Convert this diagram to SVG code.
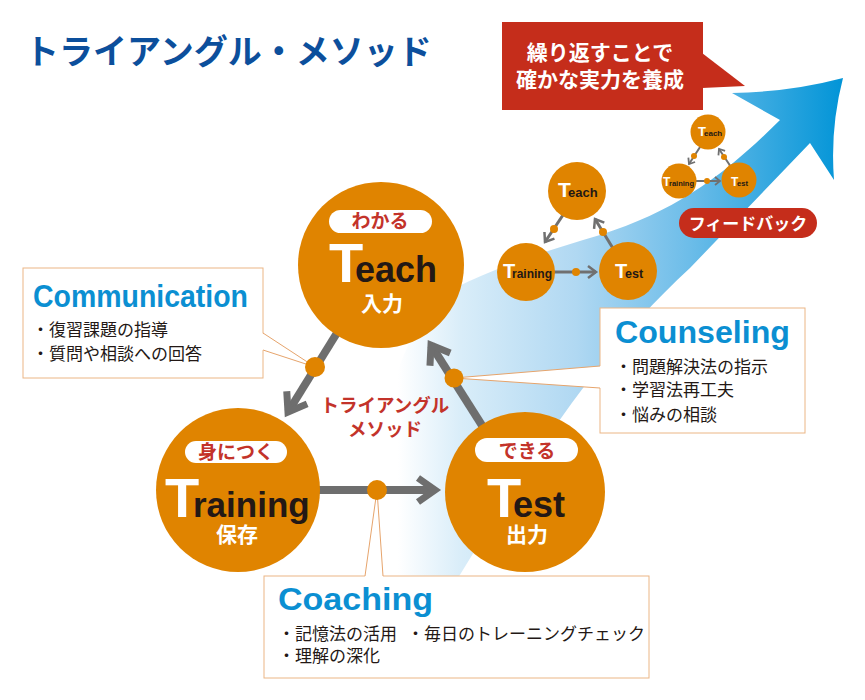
<svg xmlns="http://www.w3.org/2000/svg" width="865" height="700" viewBox="0 0 865 700">
<defs>
<linearGradient id="bandGrad" gradientUnits="userSpaceOnUse" x1="398" y1="0" x2="845" y2="0">
<stop offset="0" stop-color="#ffffff"/>
<stop offset="0.14" stop-color="#d9edf9"/>
<stop offset="0.4" stop-color="#b0d8f2"/>
<stop offset="0.65" stop-color="#6dbde9"/>
<stop offset="1" stop-color="#0094d7"/>
</linearGradient>
<marker id="ahBig" markerUnits="userSpaceOnUse" markerWidth="40" markerHeight="40" viewBox="-25 -20 40 40" refX="0" refY="0" orient="auto" overflow="visible">
<path d="M-17,-12 L0,0 L-17,12" fill="none" stroke="#6e6e6e" stroke-width="7"/>
</marker>
<marker id="ahMid" markerUnits="userSpaceOnUse" markerWidth="20" markerHeight="20" viewBox="-12 -10 20 20" refX="0" refY="0" orient="auto" overflow="visible">
<path d="M-8,-6 L0,0 L-8,6" fill="none" stroke="#707070" stroke-width="2.5"/>
</marker>
<marker id="ahSmall" markerUnits="userSpaceOnUse" markerWidth="14" markerHeight="14" viewBox="-8 -7 14 14" refX="0" refY="0" orient="auto" overflow="visible">
<path d="M-5,-4 L0,0 L-5,4" fill="none" stroke="#707070" stroke-width="1.8"/>
</marker>
<style>
.jp{font-family:"Noto Sans CJK JP","Noto Sans CJK SC",sans-serif}
.en{font-family:"Liberation Sans",Arial,sans-serif;font-weight:bold}
.circ{fill:#e08400}
.pill{fill:#ffffff}
.pillt{font-size:19px;font-weight:bold;fill:#c3332a;text-anchor:middle}
.wT{fill:#ffffff}
.dk{fill:#231815}
.sub{font-size:21px;font-weight:bold;fill:#ffffff;text-anchor:middle}
.box{fill:#ffffff;stroke:#ebb685;stroke-width:1}
.wedge{fill:#ffffff;stroke:none}
.wline{stroke:#e6a46c;stroke-width:1;fill:none}
.head{font-size:31px;fill:#0b8fd2}
.bul{font-size:17px;fill:#231815}
.gBig{stroke:#6e6e6e;stroke-width:8;fill:none}
.gMid{stroke:#707070;stroke-width:3;fill:none}
.gSmall{stroke:#707070;stroke-width:2;fill:none}
.dot{fill:#e08400}
.red{fill:#c52d1b}
</style>
</defs>
<rect x="0" y="0" width="865" height="700" fill="#ffffff"/>

<g id="title">
<text class="jp" x="25" y="64" font-size="34" font-weight="bold" fill="#0c4f9c">トライアングル・メソッド</text>
</g>

<g id="growth-arrow">
<path d="M380,590 L465,590 L458,578 C530,460 600,350 690,268 L810,143 L834,180 Q830,128 843,78 Q790,92 732,93 L780,120 C730,170 680,210 600,235 C550,250 500,265 455,288 C390,330 370,450 380,590 Z" fill="url(#bandGrad)"/>
</g>

<g id="callout-repeat">
<rect class="red" x="502" y="22" width="201" height="88"/>
<polygon class="red" points="702,53 745,86 702,88"/>
<text class="jp" x="600" y="60" font-size="21" font-weight="bold" fill="#ffffff" text-anchor="middle">繰り返すことで</text>
<text class="jp" x="600" y="87" font-size="21" font-weight="bold" fill="#ffffff" text-anchor="middle">確かな実力を養成</text>
</g>

<g id="feedback">
<rect class="red" x="679" y="208" width="138" height="30" rx="15"/>
<text class="jp" x="748" y="230" font-size="17" font-weight="bold" fill="#ffffff" text-anchor="middle">フィードバック</text>
</g>

<g id="communication">
<rect class="box" x="23" y="268" width="240" height="110"/>
<polygon class="wedge" points="262,333 315,367 262,350"/>
<polyline class="wline" points="263,333 315,367 263,350"/>
<text class="en head" x="33" y="307" textLength="215" lengthAdjust="spacingAndGlyphs">Communication</text>
<text class="jp bul" x="32" y="336">・復習課題の指導</text>
<text class="jp bul" x="32" y="360">・質問や相談への回答</text>
</g>

<g id="counseling">
<rect class="box" x="600" y="308" width="205" height="125"/>
<polygon class="wedge" points="601,366 454,378 601,388"/>
<polyline class="wline" points="600,366 454,378 600,388"/>
<text class="en head" x="615" y="343" textLength="175" lengthAdjust="spacingAndGlyphs">Counseling</text>
<text class="jp bul" x="615" y="373">・問題解決法の指示</text>
<text class="jp bul" x="615" y="396">・学習法再工夫</text>
<text class="jp bul" x="615" y="421">・悩みの相談</text>
</g>

<g id="coaching">
<rect class="box" x="264" y="576" width="385" height="102"/>
<polygon class="wedge" points="365,577 377,490 383,577"/>
<polyline class="wline" points="365,576 377,490 383,576"/>
<text class="en head" x="278" y="610" textLength="155" lengthAdjust="spacingAndGlyphs">Coaching</text>
<text class="jp bul" x="278" y="640">・記憶法の活用</text>
<text class="jp bul" x="407" y="640">・毎日のトレーニングチェック</text>
<text class="jp bul" x="278" y="662">・理解の深化</text>
</g>

<g id="connectors">
<line class="gBig" x1="345" y1="320" x2="288" y2="412" marker-end="url(#ahBig)"/>
<line class="gBig" x1="490" y1="438" x2="431" y2="345" marker-end="url(#ahBig)"/>
<line class="gBig" x1="310" y1="490" x2="435" y2="490" marker-end="url(#ahBig)"/>
<line class="gMid" x1="565" y1="212" x2="545" y2="242" marker-end="url(#ahMid)"/>
<line class="gMid" x1="614" y1="250" x2="595" y2="219" marker-end="url(#ahMid)"/>
<line class="gMid" x1="550" y1="272" x2="596" y2="272" marker-end="url(#ahMid)"/>
<line class="gSmall" x1="702" y1="144" x2="689" y2="164" marker-end="url(#ahSmall)"/>
<line class="gSmall" x1="731" y1="167" x2="719" y2="149" marker-end="url(#ahSmall)"/>
<line class="gSmall" x1="692" y1="181" x2="720" y2="181" marker-end="url(#ahSmall)"/>
<circle class="dot" cx="315" cy="367" r="10"/>
<circle class="dot" cx="454" cy="378" r="9.5"/>
<circle class="dot" cx="377" cy="490" r="10"/>
<circle class="dot" cx="554" cy="229" r="4"/>
<circle class="dot" cx="603" cy="232" r="4"/>
<circle class="dot" cx="576" cy="272" r="4"/>
<circle class="dot" cx="694" cy="156" r="3"/>
<circle class="dot" cx="724" cy="157" r="3"/>
<circle class="dot" cx="707" cy="181" r="3"/>
</g>

<g id="center-label">
<text class="jp" x="385" y="412" font-size="18.5" font-weight="bold" fill="#c3332a" text-anchor="middle">トライアングル</text>
<text class="jp" x="385" y="436" font-size="18.5" font-weight="bold" fill="#c3332a" text-anchor="middle">メソッド</text>
</g>

<g id="teach">
<circle class="circ" cx="381" cy="265" r="83"/>
<rect class="pill" x="329" y="210" width="103" height="23" rx="11.5"/>
<text class="jp pillt" x="380" y="228">わかる</text>
<text class="en" y="282"><tspan class="wT" x="329" font-size="56">T</tspan><tspan class="dk" x="355" font-size="36">each</tspan></text>
<text class="jp sub" x="382" y="311">入力</text>
</g>

<g id="training">
<circle class="circ" cx="238" cy="490" r="82"/>
<rect class="pill" x="185" y="441" width="102" height="22" rx="11"/>
<text class="jp pillt" x="236" y="459" font-size="18">身につく</text>
<text class="en" y="517"><tspan class="wT" x="165" font-size="56">T</tspan><tspan class="dk" x="193" font-size="35">raining</tspan></text>
<text class="jp sub" x="237" y="542">保存</text>
</g>

<g id="test">
<circle class="circ" cx="525" cy="492" r="80"/>
<rect class="pill" x="475" y="438" width="103" height="24" rx="12"/>
<text class="jp pillt" x="527" y="458">できる</text>
<text class="en" y="517"><tspan class="wT" x="487" font-size="56">T</tspan><tspan class="dk" x="513" font-size="36">est</tspan></text>
<text class="jp sub" x="527" y="542">出力</text>
</g>

<g id="teach-mid">
<circle class="circ" cx="577" cy="191" r="29"/>
<text class="en" y="197"><tspan class="wT" x="558" font-size="21">T</tspan><tspan class="dk" x="568" font-size="13">each</tspan></text>
</g>
<g id="training-mid">
<circle class="circ" cx="526" cy="272" r="29"/>
<text class="en" y="278"><tspan class="wT" x="503" font-size="20">T</tspan><tspan class="dk" x="512" font-size="12">raining</tspan></text>
</g>
<g id="test-mid">
<circle class="circ" cx="628" cy="271" r="29"/>
<text class="en" y="278"><tspan class="wT" x="615" font-size="20">T</tspan><tspan class="dk" x="625" font-size="12.5">est</tspan></text>
</g>

<g id="teach-small">
<circle class="circ" cx="708" cy="132" r="17.5"/>
<text class="en" y="136"><tspan class="wT" x="698" font-size="13">T</tspan><tspan class="dk" x="704" font-size="8">each</tspan></text>
</g>
<g id="training-small">
<circle class="circ" cx="679" cy="181" r="17.5"/>
<text class="en" y="186"><tspan class="wT" x="663" font-size="12">T</tspan><tspan class="dk" x="669" font-size="7.5">raining</tspan></text>
</g>
<g id="test-small">
<circle class="circ" cx="739" cy="180" r="17.5"/>
<text class="en" y="186"><tspan class="wT" x="731" font-size="12">T</tspan><tspan class="dk" x="737" font-size="7.6">est</tspan></text>
</g>
</svg>
